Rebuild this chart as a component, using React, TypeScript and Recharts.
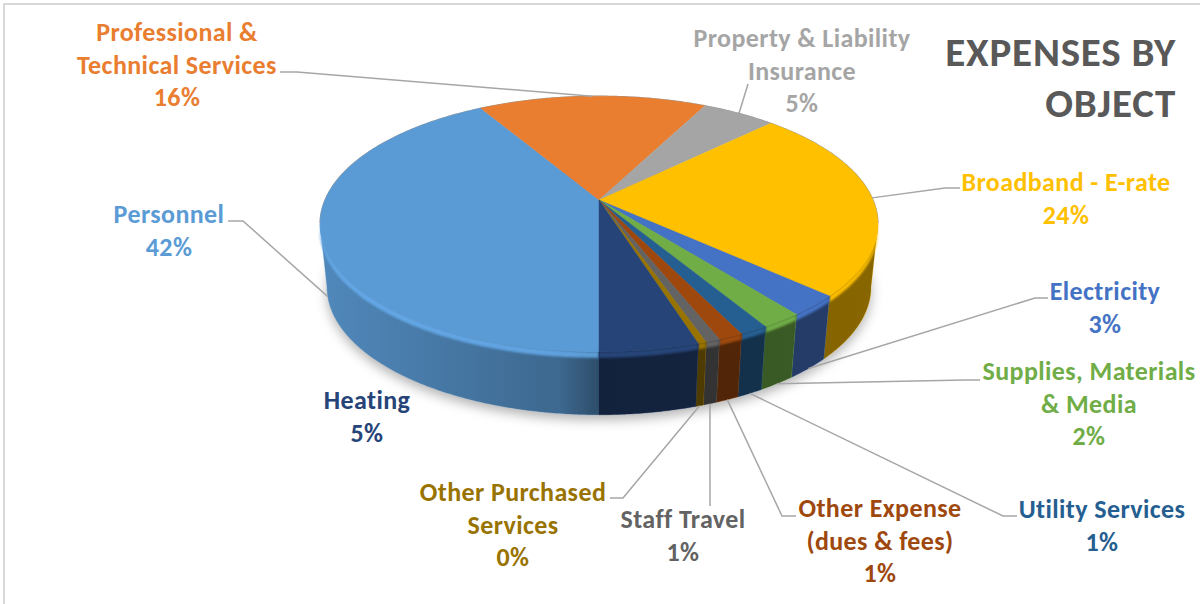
import { PieChart, Pie } from 'recharts';

const CATEGORIES = [
  'Personnel',
  'Professional & Technical Services',
  'Property & Liability Insurance',
  'Broadband - E-rate',
  'Electricity',
  'Supplies, Materials & Media',
  'Utility Services',
  'Other Expense (dues & fees)',
  'Staff Travel',
  'Other Purchased Services',
  'Heating',
];
const VALUES = [41.6, 15.8, 5.1, 24.3, 2.6, 2, 1.4, 1.2, 0.7, 0.4, 4.8];
const COLORS = [
  '#5B9BD5', '#E97D30', '#A5A5A5', '#FFC000', '#4472C4', '#70AD47',
  '#255E91', '#9E480E', '#636363', '#997300', '#264478',
];
const LABEL_LINES = [
  ['Personnel'],
  ['Professional &', 'Technical Services'],
  ['Property & Liability', 'Insurance'],
  ['Broadband - E-rate'],
  ['Electricity'],
  ['Supplies, Materials', '& Media'],
  ['Utility Services'],
  ['Other Expense', '(dues & fees)'],
  ['Staff Travel'],
  ['Other Purchased', 'Services'],
  ['Heating'],
];
const TITLE_LINES = ['EXPENSES BY', 'OBJECT'];

// label placement, same order as CATEGORIES. leader runs from the slice rim through these points
const LABEL_X = [169, 177, 802, 1066, 1105, 1089, 1102, 880, 683, 513, 367];
const LABEL_Y = [223, 41, 47, 191, 300, 380, 518, 517, 528, 501, 409];
const LEADERS: number[][][] = [
  [[243, 221], [228, 221]],
  [[297, 72], [280, 72]],
  [[748, 84]],
  [[945, 188], [960, 188]],
  [[1035, 298], [1048, 298]],
  [[965, 380], [980, 380]],
  [[1003, 516], [1017, 516]],
  [[782, 516], [796, 516]],
  [[710, 506]],
  [[623, 498], [610, 498]],
  [],
];

const FONT = 'Carlito, Lato, sans-serif';
const LINE_HEIGHT = 32.5;

// fake 3D: circle is projected with a bit of perspective, so the centre sits above the middle
const TILT = 0.45;
const PERSPECTIVE = 0.1875;
const DEPTH = 63;
const BOTTOM_SCALE = 0.975;
const TANGENT = 10.8;

const RAD = Math.PI / 180;

function rimPoint(cx: number, cy: number, r: number, deg: number) {
  const x = Math.cos(deg * RAD);
  const down = -Math.sin(deg * RAD);
  const w = 1 - PERSPECTIVE * down;
  return { x: cx + (r * x) / w, y: cy + (r * TILT * down) / w };
}

function lowerPoint(cx: number, cy: number, r: number, deg: number) {
  const p = rimPoint(cx, cy, r, deg);
  return { x: cx + (p.x - cx) * BOTTOM_SCALE, y: p.y + DEPTH };
}

function sampleAngles(from: number, to: number) {
  const out: number[] = [];
  const n = Math.max(2, Math.ceil(Math.abs(to - from) * 2));
  for (let i = 0; i <= n; i++) out.push(from + ((to - from) * i) / n);
  return out;
}

function toLine(pts: { x: number; y: number }[]) {
  return pts.map((p, i) => `${i ? 'L' : 'M'}${p.x.toFixed(2)} ${p.y.toFixed(2)}`).join(' ');
}

function toPath(pts: { x: number; y: number }[]) {
  return toLine(pts) + ' Z';
}

// part of a slice's arc that faces the viewer, angles run clockwise so they go down
function frontRanges(start: number, end: number) {
  const ranges: [number, number][] = [];
  for (const k of [0, 1]) {
    const hi = Math.min(start, -TANGENT - 360 * k);
    const lo = Math.max(end, -180 + TANGENT - 360 * k);
    if (hi > lo) ranges.push([hi, lo]);
  }
  return ranges;
}

function SliceShape(props: any) {
  const { cx, cy, outerRadius: r, startAngle, endAngle, fill } = props;
  const arcAngles = sampleAngles(startAngle, endAngle);
  const arc = arcAngles.map((a) => rimPoint(cx, cy, r, a));
  const top = toPath([{ x: cx, y: cy }, ...arc]);
  const fronts = frontRanges(startAngle, endAngle);
  // thin dark edge only along the far side of the pie
  const backEdge = arcAngles
    .filter((a) => -Math.sin(a * RAD) < Math.sin(TANGENT * RAD))
    .map((a) => rimPoint(cx, cy, r, a));

  return (
    <g>
      {fronts.map(([a, b]) => {
        const upper = sampleAngles(a, b).map((d) => rimPoint(cx, cy, r, d));
        const lower = sampleAngles(b, a).map((d) => lowerPoint(cx, cy, r, d));
        const wall = toPath([...upper, ...lower]);
        const bevel = toPath([...upper, ...[...upper].reverse().map((p) => ({ x: p.x, y: p.y + 6 }))]);
        return (
          <g key={a}>
            <path d={wall} fill={fill} stroke={fill} strokeWidth={0.4} />
            <path d={wall} fill="url(#wallShade)" />
            <path d={bevel} fill={fill} filter="url(#soft)" />
            <path d={bevel} fill="url(#bevelLight)" filter="url(#soft)" />
          </g>
        );
      })}
      {backEdge.length > 1 && <path d={toLine(backEdge)} fill="none" stroke="rgba(0,0,0,0.4)" strokeWidth={1.2} />}
      <path d={top} fill={fill} stroke={fill} strokeWidth={0.4} />
    </g>
  );
}

function ShadowShape(props: any) {
  const { cx, cy, outerRadius: r } = props;
  const pts = sampleAngles(0, -360).map((a) => {
    const p = lowerPoint(cx, cy, r, a);
    return { x: p.x, y: p.y + 5 };
  });
  return <path d={toPath(pts)} fill="#000" fillOpacity={0.3} filter="url(#shadowBlur)" />;
}

function renderLabel(props: any) {
  const { cx, cy, outerRadius: r, midAngle, index } = props;
  const lines = LABEL_LINES[index];
  const pct = Math.round((VALUES[index] * 100) / VALUES.reduce((a, b) => a + b, 0));
  // recharts hands midAngle back unsigned, the slices run through negative angles
  const deg = -Math.abs(midAngle);
  const anchor = -Math.sin(deg * RAD) > 0.1 ? lowerPoint(cx, cy, r, deg) : rimPoint(cx, cy, r, deg);
  const leader = LEADERS[index];
  return (
    <g key={CATEGORIES[index]}>
      {leader.length > 0 && (
        <polyline
          points={[[anchor.x, anchor.y], ...leader].map((p) => p.join(',')).join(' ')}
          fill="none"
          stroke="#A6A6A6"
          strokeWidth={1.5}
        />
      )}
      <text
        textAnchor="middle"
        fontFamily={FONT}
        fontWeight={700}
        fontSize={26}
        letterSpacing={0.4}
        fill={COLORS[index]}
      >
        {[...lines, `${pct}%`].map((t, i) => (
          <tspan key={i} x={LABEL_X[index]} y={LABEL_Y[index] + i * LINE_HEIGHT}>
            {t}
          </tspan>
        ))}
      </text>
    </g>
  );
}

const tableData = CATEGORIES.map((name, i) => ({ name, value: VALUES[i], fill: COLORS[i] }));
const baseData = [{ name: 'base', value: 1 }];

export default function App() {
  return (
    <div style={{ position: 'absolute', left: 0, top: 0, width: 1200, height: 604, background: '#fff' }}>
      <div
        style={{
          position: 'absolute',
          left: 3,
          top: 3,
          width: 1197,
          height: 601,
          borderLeft: '2px solid #D9D9D9',
          borderTop: '2px solid #D9D9D9',
          boxSizing: 'border-box',
        }}
      />
      <div style={{ position: 'absolute', left: 0, top: 0 }}>
        <PieChart width={1200} height={604} margin={{ top: 0, right: 0, bottom: 0, left: 0 }}>
          <defs>
            <linearGradient id="wallShade" gradientUnits="userSpaceOnUse" x1={320} y1={0} x2={878} y2={0}>
              <stop offset="0" stopColor="#000" stopOpacity={0.12} />
              <stop offset="0.43" stopColor="#000" stopOpacity={0.33} />
              <stop offset="0.5" stopColor="#000" stopOpacity={0.5} />
              <stop offset="1" stopColor="#000" stopOpacity={0.47} />
            </linearGradient>
            <linearGradient id="bevelLight" gradientUnits="userSpaceOnUse" x1={320} y1={0} x2={600} y2={0}>
              <stop offset="0" stopColor="#6FB8FF" stopOpacity={0.45} />
              <stop offset="0.8" stopColor="#6FB8FF" stopOpacity={0.25} />
              <stop offset="1" stopColor="#6FB8FF" stopOpacity={0} />
            </linearGradient>
            <filter id="soft" x="-20%" y="-20%" width="140%" height="140%">
              <feGaussianBlur stdDeviation="1.2" />
            </filter>
            <filter id="shadowBlur" x="-10%" y="-20%" width="120%" height="140%">
              <feGaussianBlur stdDeviation="6" />
            </filter>
          </defs>
          <Pie
            data={baseData}
            dataKey="value"
            cx={599}
            cy={200}
            outerRadius={274}
            startAngle={-90}
            endAngle={-450}
            shape={ShadowShape}
            stroke="none"
            isAnimationActive={false}
          />
          <Pie
            data={tableData}
            dataKey="value"
            nameKey="name"
            cx={599}
            cy={200}
            innerRadius={0}
            outerRadius={274}
            startAngle={-90}
            endAngle={-450}
            paddingAngle={0}
            shape={SliceShape}
            label={renderLabel}
            labelLine={false}
            stroke="none"
            isAnimationActive={false}
          />
          <text textAnchor="end" fontFamily={FONT} fontWeight={700} fontSize={41} letterSpacing={0.8} fill="#595959">
            {TITLE_LINES.map((t, i) => (
              <tspan key={t} x={1176} y={66 + i * 51}>
                {t}
              </tspan>
            ))}
          </text>
        </PieChart>
      </div>
    </div>
  );
}
